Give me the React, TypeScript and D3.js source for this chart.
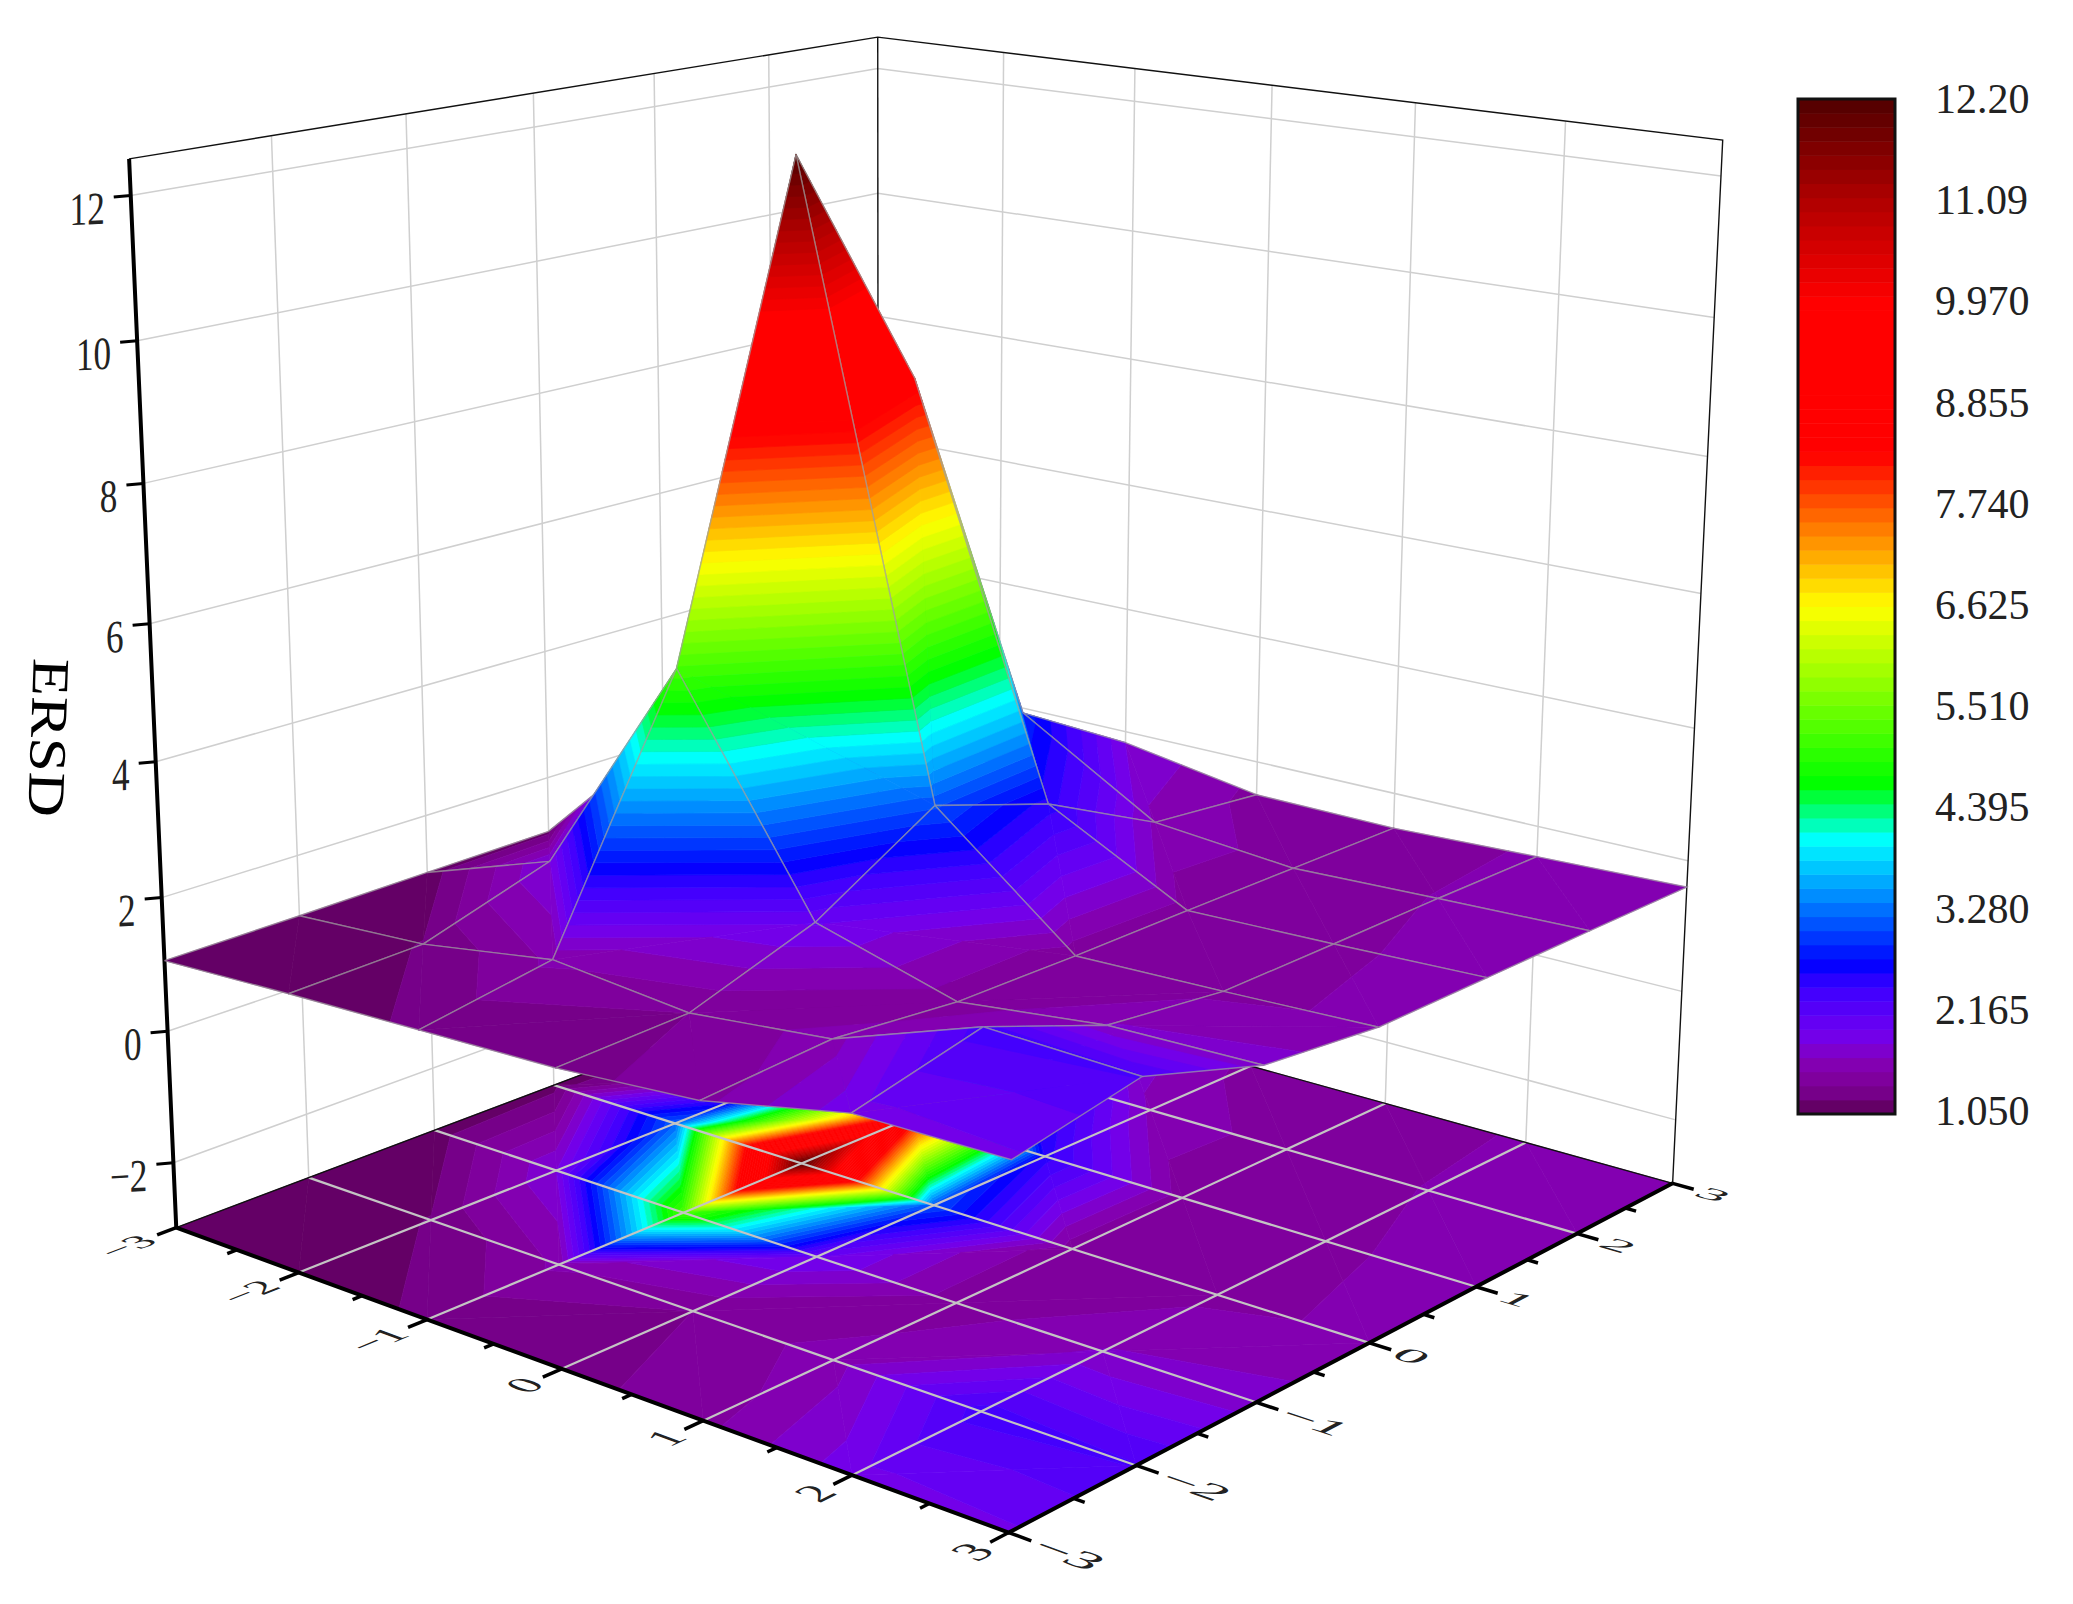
import React from "react";
import * as d3 from "d3";

const WIDTH = 2073;
const HEIGHT = 1604;

const gridTicks = [-3, -2, -1, 0, 1, 2, 3];
const zTicks = [-2, 0, 2, 4, 6, 8, 10, 12];
const zMin = -3;
const zMax = 12.5;

// ERSD at each node, one row per y value (-3..3), x value -3..3 across
const ersdRows = [
  [1.06, 1.15, 1.22, 1.29, 1.46, 1.92, 1.95],
  [1.08, 1.21, 1.55, 1.36, 1.59, 2.36, 2.3],
  [1.11, 1.82, 5.2, 2.0, 1.42, 1.68, 1.73],
  [1.14, 3.2, 12.15, 3.1, 1.41, 1.47, 1.55],
  [1.13, 1.8, 8.53, 2.52, 1.43, 1.49, 1.57],
  [1.13, 1.4, 2.87, 1.63, 1.44, 1.52, 1.59],
  [1.12, 1.25, 1.82, 1.47, 1.45, 1.53, 1.6],
];

const legendLabels = ["12.20", "11.09", "9.970", "8.855", "7.740", "6.625", "5.510", "4.395", "3.280", "2.165", "1.050"];
const colorStops = [0, 0.01, 0.022, 0.045, 0.06, 0.08, 0.125, 0.148, 0.27, 0.325, 0.5, 0.65, 0.8, 0.9, 1];
const colorValues = ["#5a005a", "#68006c", "#78008c", "#8400aa", "#8000c8", "#7000f0", "#3c00ff", "#0000ff", "#00ffff", "#00ff00", "#ffff00", "#ff0000", "#ff0000", "#b00000", "#500000"];
const bandCount = 72;

// camera fit: known cube points against their place in the picture
const anchors: number[][] = [
  [-3, -3, zMin, 175.3, 1226.7], [3, -3, zMin, 1008.5, 1533], [3, 3, zMin, 1672, 1184], [-3, 3, zMin, 876.5, 962],
  [-3, -3, zMax, 129.3, 158.7], [-3, 3, zMax, 877.7, 37.3], [3, 3, zMax, 1723, 140],
  [-2, -3, zMin, 297.7, 1272.7], [-1, -3, zMin, 428.4, 1319.3], [0, -3, zMin, 562.4, 1368.3], [1, -3, zMin, 702.7, 1420], [2, -3, zMin, 852.5, 1475],
  [3, -2, zMin, 1135.4, 1466], [3, -1, zMin, 1255.9, 1403.7], [3, 0, zMin, 1369.6, 1342.8], [3, 1, zMin, 1475.8, 1287], [3, 2, zMin, 1577.4, 1233],
  [-3, -3, 12, 130.7, 195.3], [-3, -3, 8, 143.3, 482.8], [-3, -3, 4, 156, 762.3], [-3, -3, 0, 167.3, 1033], [-3, -3, -2, 173.3, 1163.4],
  [3, 3, 4, 1694.7, 728], [3, 3, 2, 1688, 860], [3, 3, 0, 1681.8, 990.7], [3, 3, -2, 1674.7, 1119],
  [-3, 3, 12, 877.7, 69.3], [-3, 3, 10, 877.7, 193], [-3, 3, 8, 877.7, 316.7],
  [0, 3, zMin, 1255.9, 1067.4], [1, 3, zMin, 1385, 1104], [2, 3, zMin, 1524.6, 1142.5],
  [-3, -2, zMin, 310.5, 1176.7], [-3, -1, zMin, 434.8, 1129.3], [-3, 0, zMin, 552.8, 1085],
];

function fitCamera(pts: number[][]) {
  const n = 11;
  const A = d3.range(n).map(() => new Array(n + 1).fill(0));
  const add = (row: number[], rhs: number) => {
    for (let i = 0; i < n; i++) {
      for (let j = 0; j < n; j++) A[i][j] += row[i] * row[j];
      A[i][n] += row[i] * rhs;
    }
  };
  pts.forEach(([u, v, z, x, y]) => {
    const sx = x / 1000;
    const sy = y / 1000;
    add([u, v, z, 1, 0, 0, 0, 0, -sx * u, -sx * v, -sx * z], sx);
    add([0, 0, 0, 0, u, v, z, 1, -sy * u, -sy * v, -sy * z], sy);
  });
  for (let c = 0; c < n; c++) {
    let best = c;
    for (let r = c + 1; r < n; r++) if (Math.abs(A[r][c]) > Math.abs(A[best][c])) best = r;
    [A[c], A[best]] = [A[best], A[c]];
    for (let r = 0; r < n; r++) {
      if (r === c) continue;
      const f = A[r][c] / A[c][c];
      for (let k = c; k <= n; k++) A[r][k] -= f * A[c][k];
    }
  }
  return A.map((row, i) => row[n] / row[i]);
}

const P = fitCamera(anchors);

function project(u: number, v: number, z: number): [number, number] {
  const w = P[8] * u + P[9] * v + P[10] * z + 1;
  return [
    (1000 * (P[0] * u + P[1] * v + P[2] * z + P[3])) / w,
    (1000 * (P[4] * u + P[5] * v + P[6] * z + P[7])) / w,
  ];
}

const valueMin = 1.05;
const valueMax = 12.2;
const rampScale = d3.scaleLinear<string>()
  .domain(colorStops.map((f) => valueMin + f * (valueMax - valueMin)))
  .range(colorValues)
  .interpolate(d3.interpolateRgb);
const bandWidth = (valueMax - valueMin) / bandCount;
const bandColors = d3.range(bandCount).map((i) => rampScale(valueMin + (i + 0.5) * bandWidth));

type Node = [number, number, number]; // u, v, value

function clip(poly: Node[], level: number, keepAbove: boolean): Node[] {
  const out: Node[] = [];
  const inside = (n: Node) => (keepAbove ? n[2] >= level : n[2] <= level);
  poly.forEach((cur, i) => {
    const next = poly[(i + 1) % poly.length];
    if (inside(cur)) out.push(cur);
    if (inside(cur) !== inside(next)) {
      const t = (level - cur[2]) / (next[2] - cur[2]);
      out.push([cur[0] + t * (next[0] - cur[0]), cur[1] + t * (next[1] - cur[1]), level]);
    }
  });
  return out;
}

function bands(tri: Node[]) {
  const res: { poly: Node[]; band: number }[] = [];
  const vals = tri.map((n) => n[2]);
  const first = Math.max(0, Math.floor((d3.min(vals)! - valueMin) / bandWidth));
  const last = Math.min(bandCount - 1, Math.floor((d3.max(vals)! - valueMin) / bandWidth));
  for (let b = first; b <= last; b++) {
    let poly = clip(tri, valueMin + b * bandWidth, true);
    if (b < bandCount - 1) poly = clip(poly, valueMin + (b + 1) * bandWidth, false);
    if (poly.length > 2) res.push({ poly, band: b });
  }
  return res;
}

const node = (i: number, j: number): Node => [gridTicks[i], gridTicks[j], ersdRows[j][i]];

function cellTriangles(i: number, j: number): Node[][] {
  const a = node(i, j);
  const b = node(i + 1, j);
  const c = node(i + 1, j + 1);
  const d = node(i, j + 1);
  // split along the diagonal with the smaller rise
  if (Math.abs(a[2] - c[2]) <= Math.abs(b[2] - d[2])) return [[a, c, d], [a, b, c]];
  return [[a, b, d], [b, c, d]];
}

// far cells first, so nearer ones paint over them
const cells = d3.cross(d3.range(6), d3.range(6))
  .sort((p, q) => p[0] - p[1] - (q[0] - q[1]));

const lineGen = d3.line();

function toPath(poly: Node[], flat: boolean) {
  const pts = poly.map((n) => project(n[0], n[1], flat ? zMin : n[2]));
  return lineGen(pts) + "Z";
}

const seg = (p: number[], q: number[]) =>
  lineGen([project(p[0], p[1], p[2]), project(q[0], q[1], q[2])]) || "";

const fmt = d3.format("d");
const serif = "'Liberation Serif', 'Times New Roman', serif";

// text lying flat on the floor plane of the box
function PlaneLabel({ text, at, xDir, upDir, emX, emY, anchor }: any) {
  const o = project(at[0], at[1], at[2]);
  const px = project(at[0] + xDir[0] * emX, at[1] + xDir[1] * emX, at[2]);
  const py = project(at[0] - upDir[0] * emY, at[1] - upDir[1] * emY, at[2]);
  const m = [(px[0] - o[0]) / 100, (px[1] - o[1]) / 100, (py[0] - o[0]) / 100, (py[1] - o[1]) / 100, o[0], o[1]];
  return (
    <text transform={`matrix(${m.join(" ")})`} fontSize={100} y={33} textAnchor={anchor} fontFamily={serif} fill="#222">
      {text}
    </text>
  );
}

function Surface() {
  return (
    <g>
      {cells.map(([i, j]) => {
        const a = node(i, j);
        const b = node(i + 1, j);
        const c = node(i + 1, j + 1);
        const d = node(i, j + 1);
        return (
          <g key={`${i}-${j}`}>
            {cellTriangles(i, j).flatMap((tri, t) =>
              bands(tri).map(({ poly, band }) => (
                <path key={`${t}-${band}`} d={toPath(poly, false)} fill={bandColors[band]} stroke={bandColors[band]} strokeWidth={0.7} />
              ))
            )}
            <path
              d={lineGen([a, b, c, d, a].map((n) => project(n[0], n[1], n[2]))) || ""}
              fill="none"
              stroke="#a0a0a0"
              strokeOpacity={0.7}
              strokeWidth={1.4}
            />
          </g>
        );
      })}
    </g>
  );
}

function Floor() {
  return (
    <g>
      {cells.flatMap(([i, j]) =>
        cellTriangles(i, j).flatMap((tri, t) =>
          bands(tri).map(({ poly, band }) => (
            <path key={`${i}-${j}-${t}-${band}`} d={toPath(poly, true)} fill={bandColors[band]} stroke={bandColors[band]} strokeWidth={0.7} />
          ))
        )
      )}
    </g>
  );
}

export default function App() {
  const legendBand = d3.scaleLinear().domain([0, bandCount]).range([1114, 99]);
  const legendText = d3.scaleLinear().domain([0, legendLabels.length - 1]).range([99, 1111]);
  const inner = gridTicks.slice(1, -1);
  const halves = d3.range(-2.5, 3, 1);
  return (
    <svg width={WIDTH} height={HEIGHT} style={{ position: "absolute", left: 0, top: 0, background: "#fff" }}>
      <g fill="none" stroke="#cfcfcf" strokeWidth={1.5}>
        {inner.map((t) => <path key={`lw${t}`} d={seg([-3, t, zMin], [-3, t, zMax])} />)}
        {inner.map((t) => <path key={`rw${t}`} d={seg([t, 3, zMin], [t, 3, zMax])} />)}
        {zTicks.map((z) => (
          <path key={`h${z}`} d={lineGen([project(-3, -3, z), project(-3, 3, z), project(3, 3, z)]) || ""} />
        ))}
      </g>
      <Floor />
      <g fill="none" stroke="#c4c4c4" strokeWidth={2.2}>
        {inner.map((t) => <path key={`fu${t}`} d={seg([t, -3, zMin], [t, 3, zMin])} />)}
        {inner.map((t) => <path key={`fv${t}`} d={seg([-3, t, zMin], [3, t, zMin])} />)}
      </g>
      <g fill="none" stroke="#111" strokeWidth={1.4}>
        <path d={lineGen([project(-3, -3, zMax), project(-3, 3, zMax), project(3, 3, zMax), project(3, 3, zMin)]) || ""} />
        <path d={seg([-3, 3, zMin], [-3, 3, zMax])} />
        <path d={lineGen([project(-3, -3, zMin), project(-3, 3, zMin), project(3, 3, zMin)]) || ""} />
      </g>
      <g fill="none" stroke="#000">
        <path strokeWidth={4} d={lineGen([project(-3, -3, zMax), project(-3, -3, zMin), project(3, -3, zMin), project(3, 3, zMin)]) || ""} />
        {gridTicks.map((t) => <path key={`tu${t}`} strokeWidth={3.5} d={seg([t, -3, zMin], [t, -3.14, zMin])} />)}
        {gridTicks.map((t) => <path key={`tv${t}`} strokeWidth={3.5} d={seg([3, t, zMin], [3.14, t, zMin])} />)}
        {halves.map((t) => <path key={`mu${t}`} strokeWidth={3.5} d={seg([t, -3, zMin], [t, -3.07, zMin])} />)}
        {halves.map((t) => <path key={`mv${t}`} strokeWidth={3.5} d={seg([3, t, zMin], [3.07, t, zMin])} />)}
        {zTicks.map((z) => {
          const [x, y] = project(-3, -3, z);
          return <path key={`tz${z}`} strokeWidth={3} d={lineGen([[x, y], [x - 17, y + 1.5]]) || ""} />;
        })}
      </g>
      <Surface />
      {gridTicks.map((t) => (
        <PlaneLabel key={`lu${t}`} text={fmt(t)} at={[t, -3.2, zMin]} xDir={[0, 1]} upDir={[-1, 0]} emX={0.3} emY={0.27} anchor="end" />
      ))}
      {gridTicks.map((t) => (
        <PlaneLabel key={`lv${t}`} text={fmt(t)} at={[3.18, t, zMin]} xDir={[1, 0]} upDir={[0, 1]} emX={0.35} emY={0.25} anchor="start" />
      ))}
      {zTicks.map((z) => {
        const [x, y] = project(-3, -3, z);
        return (
          <text key={`lz${z}`} transform={`translate(${x - 26},${y + 28}) skewY(-3) scale(0.8,1.05)`} fontSize={44} textAnchor="end" fontFamily={serif} fill="#222">
            {fmt(z)}
          </text>
        );
      })}
      <text transform="translate(31,737) rotate(92) scale(1,0.85)" fontSize={62} textAnchor="middle" fontFamily={serif} fill="#000">ERSD</text>
      {d3.range(bandCount).map((i) => (
        <rect key={i} x={1798} width={97} y={legendBand(i + 1)} height={legendBand(i) - legendBand(i + 1) + 0.5} fill={bandColors[i]} />
      ))}
      <rect x={1798} y={99} width={97} height={1015} fill="none" stroke="#111" strokeWidth={3} />
      {legendLabels.map((l, i) => (
        <text key={l} x={1935} y={legendText(i) + 14} fontSize={42} fontFamily={serif} fill="#222">{l}</text>
      ))}
    </svg>
  );
}
